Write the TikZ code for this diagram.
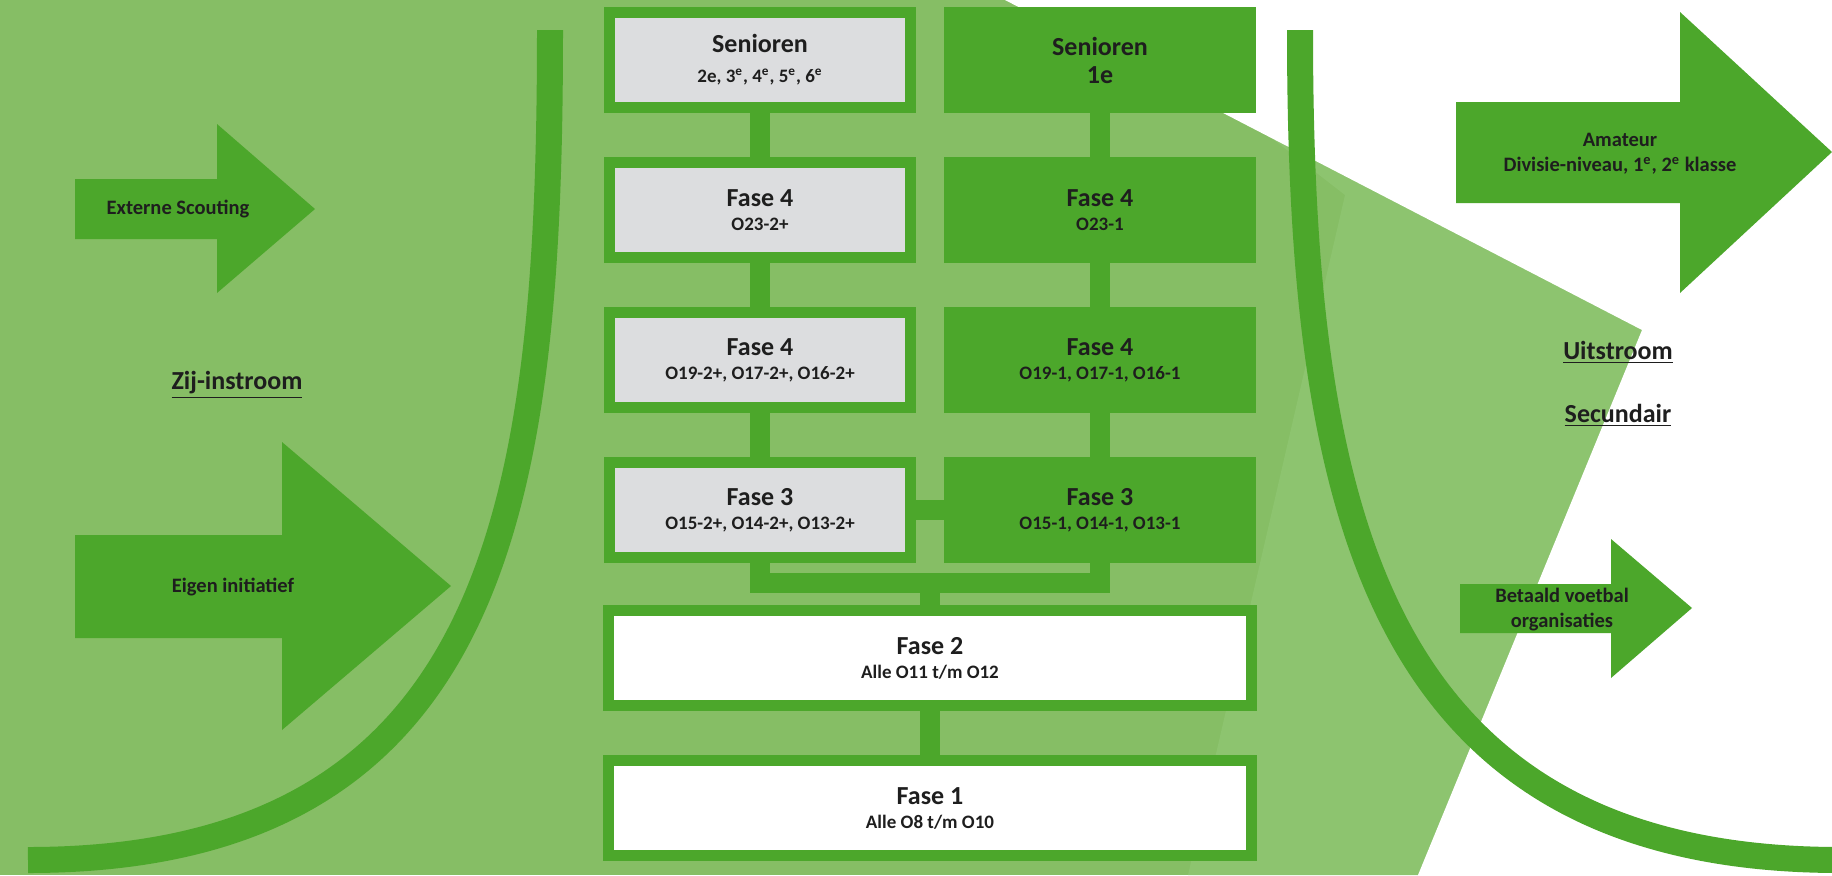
\documentclass[tikz,border=0pt]{standalone}
\usepackage{fontspec}
\setmainfont{Carlito}
\usetikzlibrary{positioning}
\definecolor{clubgreen}{HTML}{4CA72B}
\definecolor{fieldgreen}{HTML}{86BE65}
\definecolor{fieldlight}{HTML}{8DC46F}
\definecolor{boxgrey}{HTML}{DCDDDF}
\definecolor{inkgrey}{HTML}{1E1E1E}
\newcommand\fasetitle[1]{{\fontsize{13}{14}\selectfont #1}}
\newcommand\fasesub[1]{{\fontsize{9.5}{14}\selectfont #1}}

\begin{document}
\begin{tikzpicture}[x=0.5pt,y=-0.5pt,node distance=22pt and 14pt,
  every node/.style={font=\bfseries,text=inkgrey},
  fase/.style={draw=clubgreen,line width=5.5pt,inner sep=0pt,align=center,
    minimum width=150.5pt,minimum height=47.5pt},
  greybox/.style={fase,fill=boxgrey},
  greenbox/.style={fase,fill=clubgreen},
  widebox/.style={fase,fill=white,minimum width=321.5pt},
  link/.style={draw=clubgreen,line width=10pt,line join=miter},
  curve/.style={draw=clubgreen,line width=13pt},
  flow/.style={fill=clubgreen},
  lab/.style={align=center,font=\bfseries\fontsize{10.25}{12.5}\selectfont},
  head/.style={font=\bfseries\fontsize{13}{15}\selectfont}]
 \useasboundingbox (0,0) rectangle (1832,875);
 % background
 \fill[fieldgreen] (0,0) rectangle (1832,875);
 \fill[fieldlight] (1188,875) -- (1345,195) -- (1238,112) -- (1642,330) -- (1418,875) -- cycle;
 \fill[white] (1005,0) -- (1642,330) -- (1418,875) -- (1832,875) -- (1832,0) -- cycle;
 % arcs
 \draw[curve] (550,30) .. controls (550,500) and (500,860) .. (28,860);
 \draw[curve] (1300,30) .. controls (1300,500) and (1370,860) .. (1840,860);
 % arrows
 \fill[flow] (75,179) -- (217,179) -- (217,124) -- (315,209) -- (217,293) -- (217,239) -- (75,239) -- cycle;
 \fill[flow] (75,535) -- (282,535) -- (282,442) -- (451,586) -- (282,730) -- (282,638) -- (75,638) -- cycle;
 \fill[flow] (1456,102) -- (1680,102) -- (1680,12) -- (1832,152) -- (1680,293) -- (1680,203) -- (1456,203) -- cycle;
 \fill[flow] (1460,584) -- (1611,584) -- (1611,539) -- (1692,608) -- (1611,678) -- (1611,633) -- (1460,633) -- cycle;
 \node[lab] (scout) at (178,209) {Externe Scouting};
 \node[lab] (eigen) at (233,587) {Eigen initiatief};
 \node[lab] (amateur) at (1620,154) {Amateur\\Divisie-niveau, 1\textsuperscript{e}, 2\textsuperscript{e} klasse};
 \node[lab] (betaald) at (1562,610) {Betaald voetbal\\organisaties};
 \node[head] (zij) at (237,385) {\underline{Zij-instroom}};
 \node[head] (uit) at (1618,352) {\underline{Uitstroom}};
 \node[head] (sec) at (1618,415) {\underline{Secundair}};
 % fases
 \node[greybox] (senL) at (760,60) {\fasetitle{Senioren}\\[3pt]\fasesub{2e, 3\textsuperscript{e}, 4\textsuperscript{e}, 5\textsuperscript{e}, 6\textsuperscript{e}}};
 \node[greenbox,right=of senL] (senR) {\fasetitle{Senioren}\\[2pt]\fasetitle{1e}};
 \node[greybox,below=of senL] (f4aL) {\fasetitle{Fase 4}\\\fasesub{O23-2+}};
 \node[greenbox,right=of f4aL] (f4aR) {\fasetitle{Fase 4}\\\fasesub{O23-1}};
 \node[greybox,below=of f4aL] (f4bL) {\fasetitle{Fase 4}\\\fasesub{O19-2+, O17-2+, O16-2+}};
 \node[greenbox,right=of f4bL] (f4bR) {\fasetitle{Fase 4}\\\fasesub{O19-1, O17-1, O16-1}};
 \node[greybox,below=of f4bL] (f3L) {\fasetitle{Fase 3}\\\fasesub{O15-2+, O14-2+, O13-2+}};
 \node[greenbox,right=of f3L] (f3R) {\fasetitle{Fase 3}\\\fasesub{O15-1, O14-1, O13-1}};
 \node[widebox] (f2) at (930,658) {\fasetitle{Fase 2}\\\fasesub{Alle O11 t/m O12}};
 \node[widebox,below=of f2] (f1) {\fasetitle{Fase 1}\\\fasesub{Alle O8 t/m O10}};
 \coordinate (split) at (930,582.5);
 \draw[link] (senL) -- (f4aL);
 \draw[link] (f4aL) -- (f4bL);
 \draw[link] (f4bL) -- (f3L);
 \draw[link] (senR) -- (f4aR);
 \draw[link] (f4aR) -- (f4bR);
 \draw[link] (f4bR) -- (f3R);
 \draw[link] (f3L) -- (f3R);
 \draw[link] (f3L) |- (split) -| (f3R);
 \draw[link] (split) -- (f2);
 \draw[link] (f2) -- (f1);
\end{tikzpicture}
\end{document}
